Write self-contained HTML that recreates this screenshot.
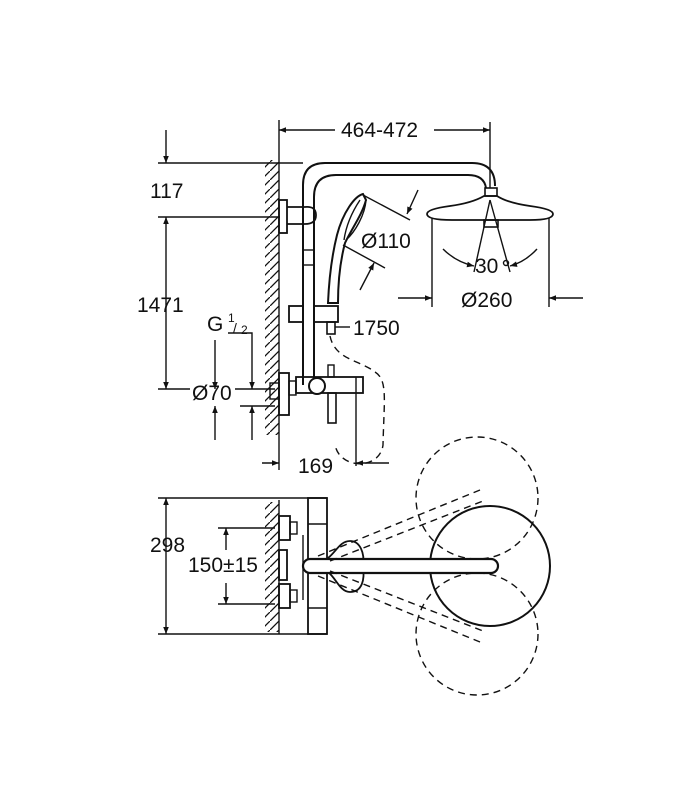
<!DOCTYPE html>
<html><head><meta charset="utf-8"><style>
html,body{margin:0;padding:0;background:#fff}
svg{display:block}
text{font-family:"Liberation Sans",sans-serif;fill:#111}
</style></head><body>
<svg width="700" height="800" viewBox="0 0 700 800" xmlns="http://www.w3.org/2000/svg">
<defs>
<marker id="a" viewBox="0 0 10 10" refX="10" refY="5" markerWidth="10" markerHeight="7" orient="auto-start-reverse" markerUnits="userSpaceOnUse"><path d="M0,1 L10,5 L0,9 Z" fill="#111"/></marker>
<pattern id="h" width="9" height="9" patternUnits="userSpaceOnUse"><path d="M-1,10 L10,-1" stroke="#111" stroke-width="1.3"/></pattern>
</defs>
<g stroke="#111" fill="none" stroke-width="1.4">
<line x1="279" y1="120" x2="279" y2="470"/>
<line x1="490" y1="122" x2="490" y2="188"/>
<line x1="279" y1="130" x2="335" y2="130" marker-start="url(#a)"/>
<line x1="434" y1="130" x2="490" y2="130" marker-end="url(#a)"/>
<line x1="166" y1="130" x2="166" y2="163" marker-end="url(#a)"/>
<line x1="158" y1="163" x2="303" y2="163"/>
<line x1="158" y1="217" x2="280" y2="217"/>
<line x1="166" y1="217" x2="166" y2="389" marker-start="url(#a)" marker-end="url(#a)"/>
<line x1="158" y1="389" x2="190" y2="389"/>
<line x1="235" y1="389" x2="275" y2="389"/>
<line x1="240" y1="406" x2="275" y2="406"/>
<line x1="215" y1="340" x2="215" y2="389" marker-end="url(#a)"/>
<line x1="215" y1="440" x2="215" y2="406" marker-end="url(#a)"/>
<polyline points="228,333 252,333 252,389" marker-end="url(#a)"/>
<line x1="252" y1="440" x2="252" y2="406" marker-end="url(#a)"/>
<rect x="265" y="160" width="14" height="275" fill="url(#h)" stroke="none"/>
<path d="M303,385 L303,185 Q303,163 325,163 L472,163 Q495,163 495,186" stroke-width="2"/>
<path d="M314,385 L314,197 Q314,175 336,175 L468,175 Q484,175 486,188" stroke-width="2"/>
<rect x="279" y="200" width="8" height="33" stroke-width="1.8"/>
<path d="M287,207 L305,207 Q316,206 316,215 Q316,224 305,224 L287,224" stroke-width="1.8"/>
<line x1="303" y1="250" x2="314" y2="250"/><line x1="303" y1="265" x2="314" y2="265"/>
<path d="M363,194 C355,196 343,212 337,235 C332,255 329,280 328,303 L338,303 C338,282 340,262 345,243 C352,228 362,215 366,200 Z" stroke-width="2"/>
<path d="M360,200 C352,212 346,226 344,240" />
<path d="M366,200 C365,215 355,232 346,240"/>
<line x1="363" y1="195" x2="410" y2="220"/>
<line x1="343" y1="245" x2="385" y2="268"/>
<line x1="418" y1="190" x2="407" y2="214" marker-end="url(#a)"/>
<line x1="360" y1="290" x2="374" y2="263" marker-end="url(#a)"/>
<rect x="289" y="306" width="14" height="16" stroke-width="1.8"/>
<rect x="314" y="306" width="24" height="16" stroke-width="1.8"/>
<rect x="327" y="322" width="8" height="12" stroke-width="1.6"/>
<line x1="335" y1="327" x2="350" y2="327"/>
<path d="M330,336 C335,360 360,360 375,372 C388,380 384,400 383,445 C380,470 340,470 335,445" stroke-dasharray="7,5"/>
<rect x="279" y="373" width="10" height="42" stroke-width="1.8"/>
<rect x="270" y="383" width="9" height="16" stroke-width="1.4"/>
<rect x="289" y="381" width="7" height="14" stroke-width="1.4"/>
<rect x="296" y="377" width="67" height="16" stroke-width="1.8"/>
<circle cx="317" cy="386" r="8" stroke-width="2" fill="#fff"/>
<rect x="328" y="393" width="8" height="30" stroke-width="1.6"/>
<rect x="328" y="365" width="6" height="12" stroke-width="1.4"/>
<line x1="356" y1="377" x2="356" y2="466"/>
<line x1="262" y1="463" x2="279" y2="463" marker-end="url(#a)"/>
<line x1="389" y1="463" x2="356" y2="463" marker-end="url(#a)"/>
<rect x="485" y="188" width="12" height="8" stroke-width="1.6"/>
<path d="M484,196 L497,196 Q508,203 530,206 Q553,209 553,214 Q553,220 530,220 L452,220 Q427,220 427,214 Q427,209 450,206 Q472,203 484,196 Z" stroke-width="1.8"/>
<rect x="484" y="220" width="14" height="7" stroke-width="1.6"/>
<line x1="490" y1="200" x2="474" y2="272"/>
<line x1="490" y1="200" x2="510" y2="272"/>
<line x1="432" y1="218" x2="432" y2="307"/>
<line x1="549" y1="218" x2="549" y2="307"/>
<line x1="398" y1="298" x2="432" y2="298" marker-end="url(#a)"/>
<line x1="583" y1="298" x2="549" y2="298" marker-end="url(#a)"/>
<path d="M443,249 Q456,262 474,266" marker-end="url(#a)"/>
<path d="M537,249 Q525,262 510,266" marker-end="url(#a)"/>
<circle cx="506" cy="263" r="2.5"/>
<line x1="158" y1="498" x2="327" y2="498"/>
<line x1="158" y1="634" x2="327" y2="634"/>
<line x1="166" y1="498" x2="166" y2="634" marker-start="url(#a)" marker-end="url(#a)"/>
<line x1="218" y1="528" x2="275" y2="528"/>
<line x1="218" y1="604" x2="275" y2="604"/>
<line x1="226" y1="528" x2="226" y2="550" marker-start="url(#a)"/>
<line x1="226" y1="583" x2="226" y2="604" marker-end="url(#a)"/>
<line x1="279" y1="500" x2="279" y2="634"/>
<rect x="265" y="502" width="14" height="130" fill="url(#h)" stroke="none"/>
<rect x="279" y="516" width="11" height="24" stroke-width="1.8"/>
<rect x="279" y="550" width="8" height="30" stroke-width="1.8"/>
<rect x="279" y="584" width="11" height="24" stroke-width="1.8"/>
<rect x="290" y="522" width="7" height="12" stroke-width="1.4"/>
<rect x="290" y="590" width="7" height="12" stroke-width="1.4"/>
<rect x="308" y="498" width="19" height="136" stroke-width="1.8"/>
<line x1="308" y1="524" x2="327" y2="524"/>
<line x1="308" y1="608" x2="327" y2="608"/>
<line x1="303" y1="535" x2="303" y2="600"/>
<path d="M350,541 C340,541 336,552 328,558 L328,572 C336,578 340,592 350,592 C362,592 365,580 363,566 C365,553 360,541 350,541 Z" stroke-width="1.8"/>
<circle cx="490" cy="566" r="60" stroke-width="2" fill="none"/>
<rect x="303" y="559" width="195" height="14" rx="7" stroke-width="2.2" fill="#fff"/>
<g stroke-dasharray="7,5">
<circle cx="477" cy="498" r="61"/>
<circle cx="477" cy="634" r="61"/>
<line x1="318" y1="556" x2="480" y2="490"/>
<line x1="330" y1="561" x2="483" y2="501"/>
<line x1="318" y1="576" x2="480" y2="642"/>
<line x1="330" y1="571" x2="483" y2="631"/>
</g>
</g>
<g font-size="21">
<text x="341" y="137">464-472</text>
<text x="150" y="198">117</text>
<text x="137" y="312">1471</text>
<text x="207" y="331">G</text>
<text x="228" y="322" font-size="12">1</text>
<text x="233" y="333" font-size="14">/</text>
<text x="241" y="334" font-size="12">2</text>
<text x="192" y="400">Ø70</text>
<text x="361" y="248">Ø110</text>
<text x="353" y="335">1750</text>
<text x="475" y="273">30</text>
<text x="461" y="307">Ø260</text>
<text x="298" y="473">169</text>
<text x="150" y="552">298</text>
<text x="188" y="572">150±15</text>
</g>
</svg>
</body></html>
